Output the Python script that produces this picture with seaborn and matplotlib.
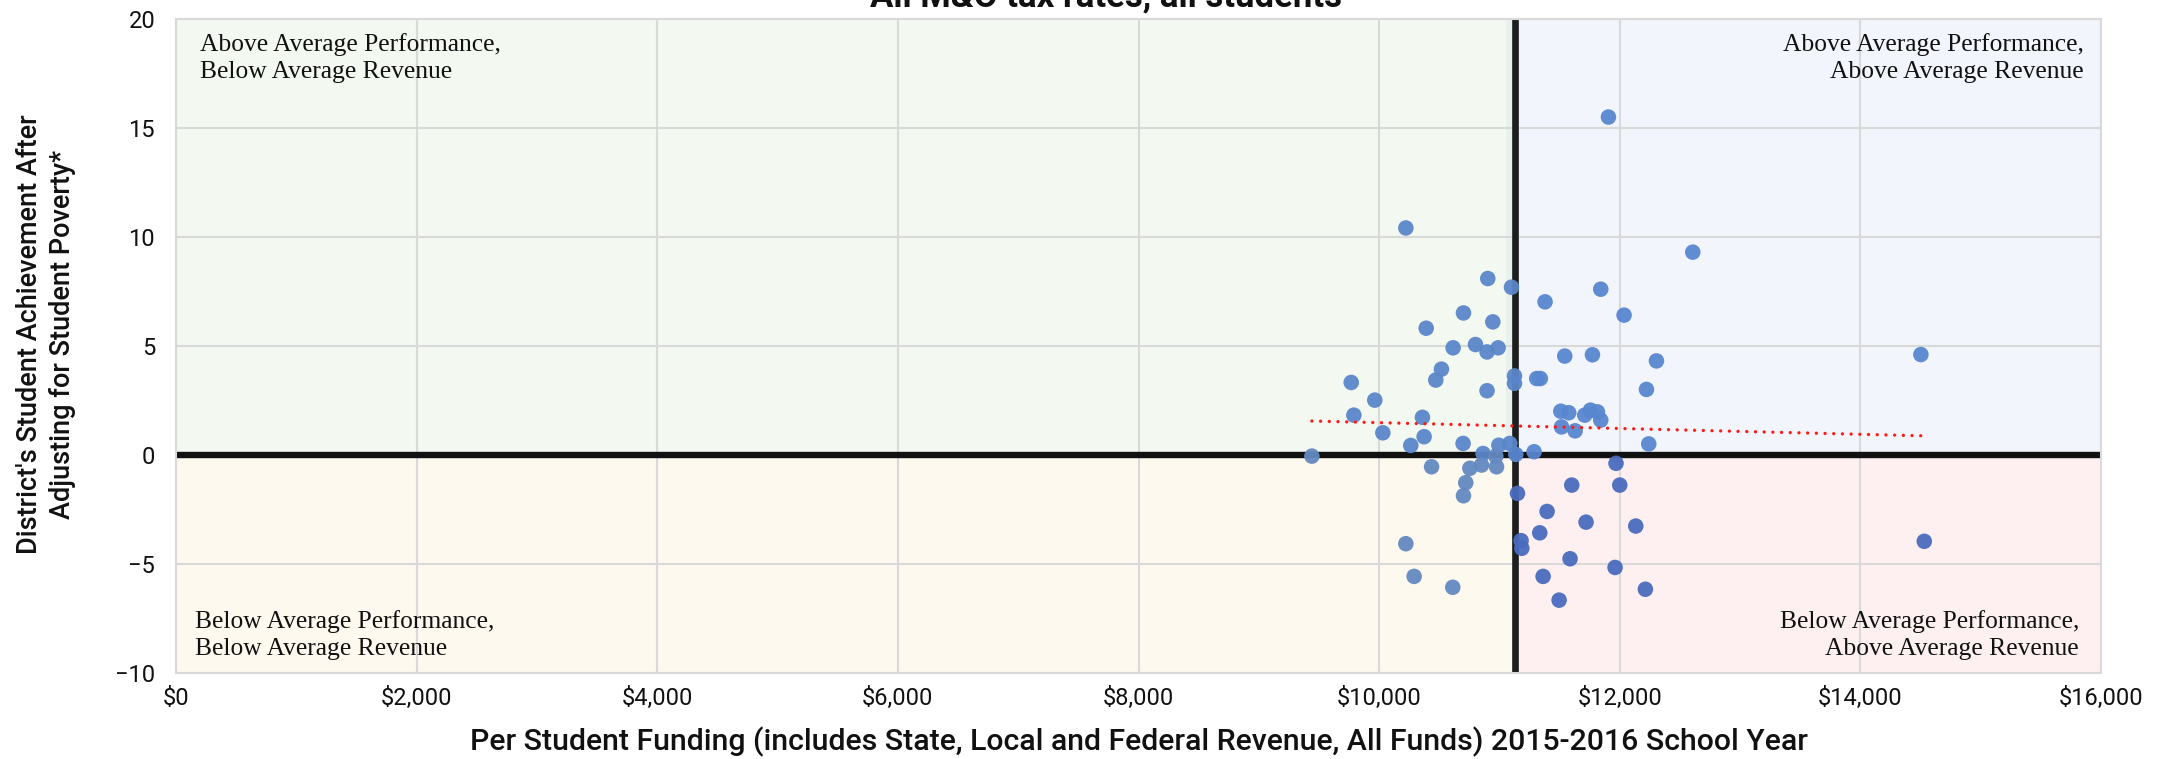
import numpy as np
import pandas as pd
import matplotlib
matplotlib.use("Agg")
import matplotlib.pyplot as plt
from matplotlib.patches import Rectangle
from matplotlib.ticker import FuncFormatter
import seaborn as sns

# per student funding ($) and adjusted achievement, one entry per district
funding = [10222, 10903, 11100, 10701, 10945, 10391, 10615, 10801, 10989, 10897,
           9768, 9964, 9790, 10031, 10518, 10471, 10897, 11125, 11125, 10360,
           10374, 10263, 10698, 10864, 10995, 11086, 11136, 9441, 10970,
           11379, 11906, 12607, 11842, 12036, 11310, 11340, 11543, 11773, 12305,
           12222, 11510, 11576, 11709, 11757, 11815, 11842, 11516, 11629, 12241,
           11288, 14503,
           10436, 10851, 10976, 10754, 10720, 10701, 10222, 10291, 10612,
           11150, 11180, 11186, 11335, 11396, 11363, 11969, 11601, 12000, 11720,
           12133, 11587, 11961, 12213, 11496, 14531]
achievement = [10.41, 8.09, 7.69, 6.51, 6.10, 5.81, 4.91, 5.06, 4.91, 4.72,
               3.32, 2.51, 1.82, 1.01, 3.93, 3.43, 2.94, 3.62, 3.28, 1.72,
               0.83, 0.43, 0.52, 0.06, 0.44, 0.52, 0.02, -0.06, -0.06,
               7.02, 15.5, 9.30, 7.60, 6.41, 3.50, 3.50, 4.53, 4.59, 4.31,
               3.00, 2.00, 1.93, 1.82, 2.05, 1.97, 1.59, 1.28, 1.10, 0.50,
               0.14, 4.60,
               -0.55, -0.47, -0.55, -0.62, -1.28, -1.88, -4.08, -5.58, -6.08,
               -1.77, -3.94, -4.29, -3.58, -2.60, -5.58, -0.39, -1.39, -1.39, -3.09,
               -3.27, -4.77, -5.17, -6.17, -6.67, -3.97]

# linear trend as drawn in the source chart (end points)
trend_x = [9441, 14531]
trend_y = [1.55, 0.87]

avg_funding = 11133
x_ticks = [0, 2000, 4000, 6000, 8000, 10000, 12000, 14000, 16000]
y_ticks = [-10, -5, 0, 5, 10, 15, 20]

quadrant_labels = {
    "ul": "Above Average Performance,\nBelow Average Revenue",
    "ur": "Above Average Performance,\nAbove Average Revenue",
    "ll": "Below Average Performance,\nBelow Average Revenue",
    "lr": "Below Average Performance,\nAbove Average Revenue",
}
quad_bg = {"ul": "#f3f8f1", "ur": "#f2f5fb", "ll": "#fef9ef", "lr": "#fef0f0"}
quad_pt = {"ul": "#5a86c9", "ur": "#5886cf", "ll": "#6489c1", "lr": "#4a6bbe"}

df = pd.DataFrame({"funding": funding, "achievement": achievement})
df["quad"] = np.where(df["achievement"] >= 0,
                      np.where(df["funding"] < avg_funding, "ul", "ur"),
                      np.where(df["funding"] < avg_funding, "ll", "lr"))
trend = pd.DataFrame({"funding": trend_x, "achievement": trend_y})

sns.set_theme(style="white")
plt.rcParams["font.family"] = ["Roboto", "DejaVu Sans"]

W, H = 2167, 759
fig = plt.figure(figsize=(W / 100, H / 100), dpi=100)
ax = fig.add_axes([176 / W, 1 - 672.7 / H, 1925 / W, 653.7 / H])
ax.set_xlim(0, 16000)
ax.set_ylim(-10, 20)

# quadrant backgrounds
ax.add_patch(Rectangle((0, 0), avg_funding, 20, color=quad_bg["ul"], zorder=0, lw=0))
ax.add_patch(Rectangle((avg_funding, 0), 16000 - avg_funding, 20, color=quad_bg["ur"], zorder=0, lw=0))
ax.add_patch(Rectangle((0, -10), avg_funding, 10, color=quad_bg["ll"], zorder=0, lw=0))
ax.add_patch(Rectangle((avg_funding, -10), 16000 - avg_funding, 10, color=quad_bg["lr"], zorder=0, lw=0))
ax.add_patch(Rectangle((avg_funding - 80, 0), 80, 20, color="#e9f1ee", zorder=0.5, lw=0))

ax.set_xticks(x_ticks)
ax.set_yticks(y_ticks)
ax.grid(True, color="#d9d9d9", lw=1.5, zorder=1)
ax.set_axisbelow(True)
for s in ax.spines.values():
    s.set_color("#d9d9d9")
    s.set_linewidth(1.5)

ax.axhline(0, color="#111111", lw=4.6, zorder=2)
ax.axvline(avg_funding, color="#1c1f1e", lw=4.8, zorder=2)

sns.scatterplot(data=df, x="funding", y="achievement", hue="quad", palette=quad_pt,
                s=125, linewidth=0, alpha=0.95, legend=False, ax=ax, zorder=3)
sns.lineplot(data=trend, x="funding", y="achievement", ax=ax, color="#ff1a1a", lw=2.4,
             ls=(0, (0.01, 2.6)), dash_capstyle="round", zorder=4)

ax.xaxis.set_major_formatter(FuncFormatter(lambda v, p: f"${v:,.0f}"))
ax.tick_params(axis="both", length=0, labelsize=17, colors="#111111")
ax.tick_params(axis="y", pad=15)
ax.tick_params(axis="x", pad=10)
ax.set_xlabel("")
ax.set_ylabel("")

serif = dict(family=["Liberation Serif", "DejaVu Serif"], fontsize=18.4, color="#111111",
             linespacing=1.32, zorder=5)
ax.text(0.0125, 0.94, quadrant_labels["ul"], transform=ax.transAxes, ha="left", va="center", **serif)
ax.text(0.9912, 0.94, quadrant_labels["ur"], transform=ax.transAxes, ha="right", va="center",
        multialignment="right", **serif)
ax.text(0.010, 0.058, quadrant_labels["ll"], transform=ax.transAxes, ha="left", va="center", **serif)
ax.text(0.9886, 0.058, quadrant_labels["lr"], transform=ax.transAxes, ha="right", va="center",
        multialignment="right", **serif)

fig.text(1139 / W, 1 - 742 / H,
         "Per Student Funding (includes State, Local and Federal Revenue, All Funds) 2015-2016 School Year",
         ha="center", va="center", fontsize=21.8, fontweight="medium", color="#111111")
fig.text(46 / W, 1 - 334 / H,
         "District's Student Achievement After\nAdjusting for Student Poverty*",
         ha="center", va="center", rotation=90, multialignment="center",
         fontsize=19.5, fontweight="medium", color="#111111", linespacing=1.25)
fig.text(1106 / W, 1 - 6 / H, "All M&O tax rates, all students", ha="center", va="baseline",
         fontsize=25, fontweight="bold", color="#111111")

fig.savefig("out.png", dpi=100)
